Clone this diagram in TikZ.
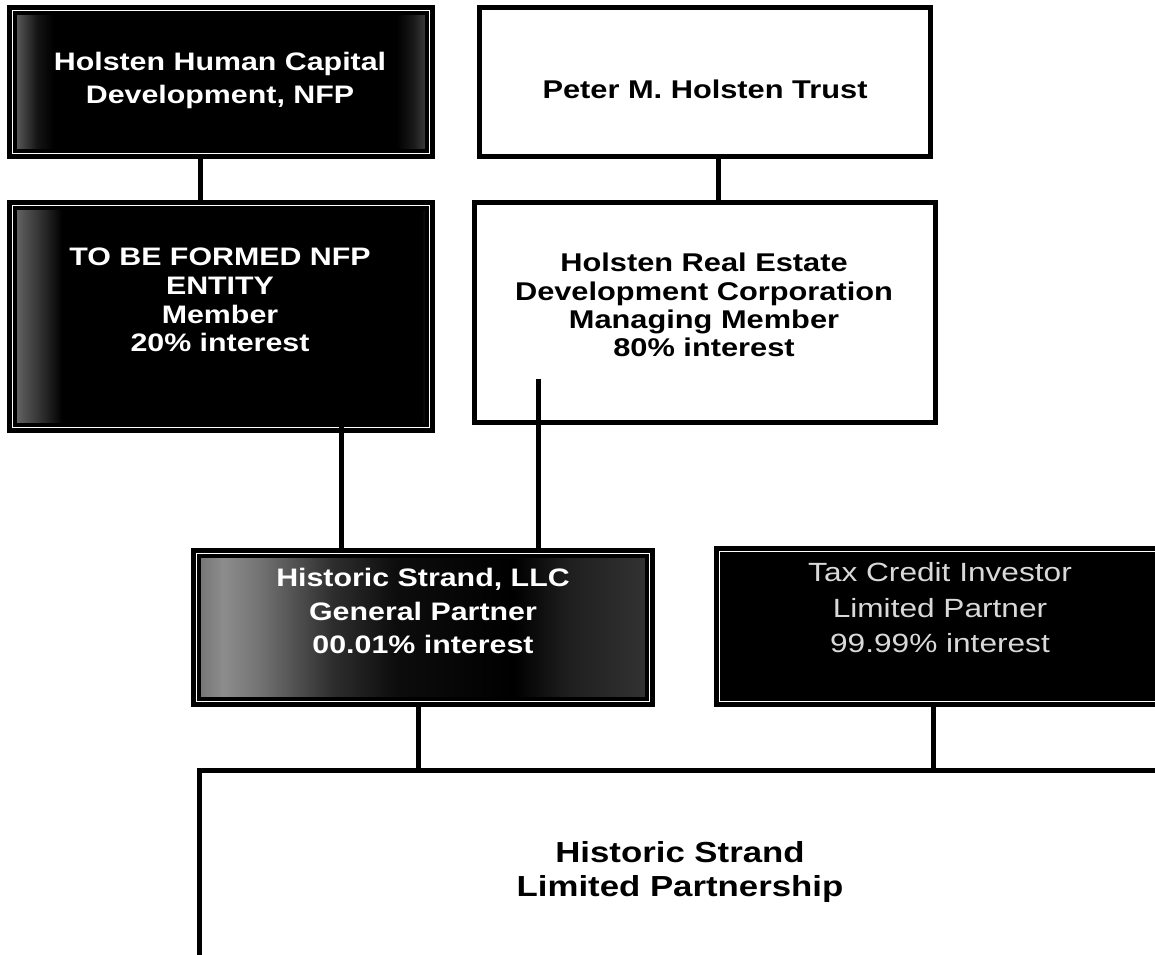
\documentclass[tikz,border=0pt]{standalone}
\usepackage{fontspec}
\newfontfamily\chartfont[FakeStretch=1.2]{Liberation Sans}
\newcommand{\boxfont}[2]{\chartfont\bfseries\fontsize{#1}{#2}\selectfont}
\newcommand{\plainfont}[2]{\chartfont\fontsize{#1}{#2}\selectfont}
% scanned grey patches on the dark boxes
\pgfdeclarehorizontalshading{hhcdshade}{100bp}{color(0bp)=(black!60); color(25bp)=(black!60); color(28bp)=(black!92); color(30bp)=(black); color(71bp)=(black); color(73bp)=(black!90); color(75bp)=(black!72); color(100bp)=(black!72)}
\pgfdeclarehorizontalshading{nfpshade}{100bp}{color(0bp)=(black!58); color(25bp)=(black!58); color(29bp)=(black!85); color(31bp)=(black); color(74bp)=(black); color(75bp)=(black!85); color(100bp)=(black!85)}
\pgfdeclarehorizontalshading{llcshade}{100bp}{color(0bp)=(black!55); color(25bp)=(black!55); color(28bp)=(black!45); color(32bp)=(black!55); color(40bp)=(black!82); color(47bp)=(black!95); color(60bp)=(black); color(66bp)=(black!88); color(75bp)=(black!80); color(100bp)=(black!80)}
\tikzset{
  whitebox/.style={draw=black, line width=2.85pt, fill=white, inner sep=0pt},
  darkbox/.style={draw=black, line width=2.56pt, double=white, double distance=0.57pt, inner sep=0pt},
  whitetext/.style={text=black, align=center, inner sep=0pt},
  darktext/.style={text=white, align=center, inner sep=0pt},
  link/.style={line width=2.85pt}
}
\begin{document}
\begin{tikzpicture}[x=0.02cm,y=-0.02cm]
\useasboundingbox (0,0) rectangle (1155,955);
% boxes
\node[darkbox, shading=hhcdshade, minimum width=8.36cm, minimum height=2.88cm] (hhcd) at (221,82) {};
\node[whitebox, minimum width=9.02cm, minimum height=2.98cm] (trust) at (705,82) {};
\node[darkbox, shading=nfpshade, minimum width=8.36cm, minimum height=4.46cm] (nfp) at (221,316.5) {};
\node[whitebox, minimum width=9.22cm, minimum height=4.4cm] (hredc) at (705,312.5) {};
\node[darkbox, shading=llcshade, minimum width=9.08cm, minimum height=2.98cm] (llc) at (423,627.5) {};
\node[darkbox, fill=black, minimum width=8.84cm, minimum height=3.02cm] (tci) at (940,626.5) {};
\node[whitebox, minimum width=19.28cm, minimum height=4.06cm] (hslp) at (681.5,872) {};
% lines
\coordinate (nfpfoot) at (341,378);
\coordinate (hredcfoot) at (538,379);
\coordinate (llcfoot) at ([xshift=-0.1cm]llc.south);
\coordinate (tcifoot) at ([xshift=-0.14cm]tci.south);
\draw[link] ([xshift=-0.42cm]hhcd.south) -- ([xshift=-0.42cm]nfp.north);
\draw[link] ([xshift=0.26cm]trust.south) -- ([xshift=0.26cm]hredc.north);
\draw[link] (nfpfoot) -- (nfpfoot |- llc.north);
\draw[link] (hredcfoot) -- (hredcfoot |- llc.north);
\draw[link] (llcfoot) -- (llcfoot |- hslp.north);
\draw[link] (tcifoot) -- (tcifoot |- hslp.north);
% texts
\node[darktext, font=\boxfont{14.4}{18.8}] (hhcdtext) at (220,80) {Holsten Human Capital\\Development, NFP};
\node[whitetext, font=\boxfont{14.6}{16.1}] (trusttext) at (705,89) {Peter M. Holsten Trust};
\node[darktext, font=\boxfont{14.4}{16.3}] (nfptext) at (220,300) {TO BE FORMED NFP\\ENTITY\\Member\\20\% interest};
\node[whitetext, font=\boxfont{14.6}{16.1}] (hredctext) at (704,305) {Holsten Real Estate\\Development Corporation\\Managing Member\\80\% interest};
\node[darktext, font=\boxfont{14.4}{19.3}] (llctext) at (423,611) {Historic Strand, LLC\\General Partner\\00.01\% interest};
\node[darktext, text=white!85!black, font=\plainfont{15}{20.2}] (tcitext) at (940,608) {Tax Credit Investor\\Limited Partner\\99.99\% interest};
\node[whitetext, font=\boxfont{16.5}{18.8}] (hslptext) at (680,872) {Historic Strand\\Limited Partnership};
\end{tikzpicture}
\end{document}
